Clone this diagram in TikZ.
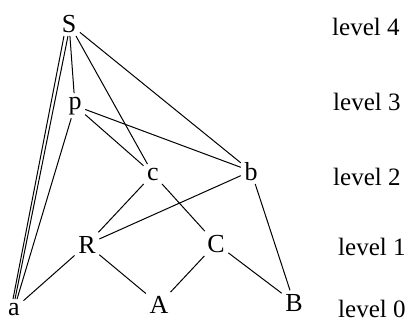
\documentclass[tikz,border=0pt]{standalone}
\usepackage{fontspec}
\setmainfont{Liberation Serif}
\usetikzlibrary{positioning}

\begin{document}
\begin{tikzpicture}[
  x=1pt, y=-1pt,
  elem/.style={font=\fontsize{26}{28}\selectfont, inner sep=3.5pt, anchor=base},
  lvl/.style={font=\fontsize{25}{27}\selectfont, inner sep=0pt, anchor=base west},
  edge/.style={line width=1pt}
]
\path[use as bounding box] (0,0) rectangle (412,322);

% elements of the order
\node[elem] (S) at (69,32) {S};
\node[elem] (p) at (75,109) {p};
\node[elem] (c) at (153,180) {c};
\node[elem] (b) at (251,180) {b};
\node[elem] (R) at (87,253) {R};
\node[elem] (C) at (216,252) {C};
\node[elem] (a) at (14,315) {a};
\node[elem] (A) at (159,313) {A};
\node[elem] (B) at (294,311) {B};

% level labels
\node[lvl] (l4) at (332,35) {level 4};
\node[lvl] (l3) at (333,110) {level 3};
\node[lvl] (l2) at (333,185) {level 2};
\node[lvl] (l1) at (338,255) {level 1};
\node[lvl] (l0) at (338,317) {level 0};

\draw[edge] ([xshift=-5pt]S.south) -- ([xshift=-1pt]a.north);
\draw[edge] ([xshift=-1pt]S.south) -- ([xshift=1pt]a.north);
\draw[edge] (S) -- (p);
\draw[edge] (S) -- (c);
\draw[edge] (S) -- (b);
\draw[edge] (p) -- ([xshift=3pt]a.north);
\draw[edge] (p) -- (c);
\draw[edge] (p) -- (b);
\draw[edge] (c) -- (R);
\draw[edge] (c) -- (C);
\draw[edge] (b) -- (R);
\draw[edge] (b) -- (B);
\draw[edge] (R) -- (a);
\draw[edge] (R) -- (A);
\draw[edge] (C) -- (A);
\draw[edge] (C) -- (B);
\end{tikzpicture}
\end{document}
